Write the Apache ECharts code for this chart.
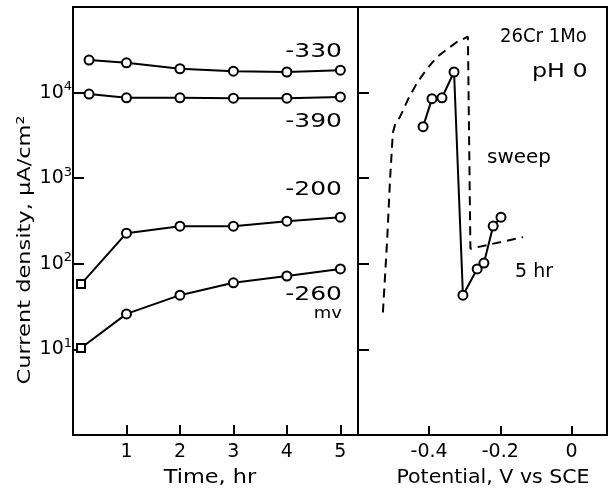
<!DOCTYPE html>
<html>
<head>
<meta charset="utf-8">
<script src="https://cdn.jsdelivr.net/npm/echarts@6/dist/echarts.min.js"></script>
<style>
    html, body { margin: 0; padding: 0; background: #fff; }
    #chart { width: 612px; height: 492px; }
</style>
</head>
<body>
<div id="chart"></div>
<script>
// left panel: current density vs time, one curve per held potential (mV)
const timeUpper = [0.3, 1, 2, 3, 4, 5];
const timeLower = [0.15, 1, 2, 3, 4, 5];
const cd330 = [24000, 22300, 19000, 17800, 17400, 18300];
const cd390 = [9600, 8700, 8700, 8600, 8600, 8900];
const cd200 = [58, 228, 275, 275, 315, 350];
const cd260 = [10.4, 26, 43, 60, 72, 87];

// right panel: potentiodynamic sweep (dashed) and 5 hr values (circles)
const sweepV = [-0.53, -0.518, -0.51, -0.502, -0.496, -0.482, -0.459, -0.434, -0.406, -0.378, -0.35, -0.322, -0.291, -0.286, -0.284, -0.136];
const sweepI = [27, 190, 950, 3400, 4200, 5200, 8400, 13000, 19000, 26000, 32000, 39000, 45000, 44000, 150, 205];
const hr5V = [-0.417, -0.392, -0.364, -0.33, -0.305, -0.265, -0.246, -0.22, -0.198];
const hr5I = [4000, 8500, 8700, 17400, 43, 87, 102, 276, 350];

const timeTicks = [1, 2, 3, 4, 5];
const potentialTicks = [-0.4, -0.2, 0];

const FONT = 'DejaVu Sans';
const zip = (xs, ys) => xs.map((x, i) => [x, ys[i]]);

const markerStyle = {
    color: '#fff',
    borderColor: '#000',
    borderWidth: 2
};

const timeSeries = (xs, ys, firstSquare) => ({
    type: 'line',
    xAxisIndex: 0,
    yAxisIndex: 0,
    symbol: 'circle',
    symbolSize: 9,
    itemStyle: markerStyle,
    lineStyle: { color: '#000', width: 2 },
    data: zip(xs, ys).map((p, i) => (firstSquare && i === 0)
        ? { value: p, symbol: 'rect', symbolSize: 8 }
        : p),
    z: 5
});

const logLabel = (v) => {
    const e = Math.round(Math.log10(v));
    if (e < 1 || e > 4) return '';
    return '10{s|' + e + '}';
};

// text helper for annotations; sx stretches the glyphs a bit like the original lettering
const label = (text, x, y, size, align, sx, rot) => ({
    type: 'text',
    x: x,
    y: y,
    scaleX: sx || 1,
    rotation: rot || 0,
    z: 10,
    style: {
        text: text,
        font: size + 'px "' + FONT + '"',
        fill: '#000',
        textAlign: align,
        textVerticalAlign: 'middle'
    }
});

const chart = echarts.init(document.getElementById('chart'));

const gridStyle = {
    show: true,
    borderColor: '#000',
    borderWidth: 2,
    backgroundColor: 'transparent',
    containLabel: false
};

const axisLine = { show: true, onZero: false, lineStyle: { color: '#000', width: 2 } };

const option = {
    backgroundColor: '#fff',
    animation: false,
    textStyle: { fontFamily: FONT, color: '#000' },
    grid: [
        Object.assign({ left: 73, top: 7, width: 285, height: 428 }, gridStyle),
        Object.assign({ left: 358, top: 7, width: 249, height: 428 }, gridStyle)
    ],
    xAxis: [
        {
            type: 'value',
            gridIndex: 0,
            min: 0,
            max: 5.33,
            interval: 1,
            axisLine: axisLine,
            axisTick: { show: true, inside: true, length: 10, lineStyle: { color: '#000', width: 2 } },
            axisLabel: {
                fontFamily: FONT,
                fontSize: 19,
                color: '#000',
                margin: 8,
                formatter: (v) => timeTicks.includes(v) ? String(v) : ''
            },
            splitLine: { show: false }
        },
        {
            type: 'value',
            gridIndex: 1,
            min: -0.6,
            max: 0.1,
            interval: 0.2,
            axisLine: axisLine,
            axisTick: { show: true, inside: true, length: 9, lineStyle: { color: '#000', width: 2 } },
            axisLabel: {
                fontFamily: FONT,
                fontSize: 19,
                color: '#000',
                margin: 8,
                formatter: (v) => {
                    const t = potentialTicks.find((p) => Math.abs(p - v) < 1e-6);
                    if (t === undefined) return '';
                    return t === 0 ? '0' : t.toFixed(1);
                }
            },
            splitLine: { show: false }
        }
    ],
    yAxis: [
        {
            type: 'log',
            logBase: 10,
            gridIndex: 0,
            position: 'left',
            min: 1,
            max: 100000,
            axisLine: axisLine,
            axisTick: { show: true, inside: true, length: 11, lineStyle: { color: '#000', width: 2 } },
            axisLabel: {
                fontFamily: FONT,
                fontSize: 19,
                color: '#000',
                margin: 1,
                formatter: logLabel,
                rich: {
                    s: { fontFamily: FONT, fontSize: 13, verticalAlign: 'top', padding: [0, 0, 12, 0] }
                }
            },
            splitLine: { show: false }
        },
        {
            type: 'log',
            logBase: 10,
            gridIndex: 1,
            position: 'left',
            min: 1,
            max: 100000,
            axisLine: axisLine,
            axisTick: { show: true, inside: true, length: 11, lineStyle: { color: '#000', width: 2 } },
            axisLabel: { show: false },
            splitLine: { show: false }
        }
    ],
    series: [
        timeSeries(timeUpper, cd330, false),
        timeSeries(timeUpper, cd390, false),
        timeSeries(timeLower, cd200, true),
        timeSeries(timeLower, cd260, true),
        {
            type: 'line',
            xAxisIndex: 1,
            yAxisIndex: 1,
            showSymbol: false,
            symbol: 'none',
            lineStyle: { color: '#000', width: 2, type: [9, 6] },
            data: zip(sweepV, sweepI),
            z: 4
        },
        {
            type: 'line',
            xAxisIndex: 1,
            yAxisIndex: 1,
            symbol: 'circle',
            symbolSize: 9,
            itemStyle: markerStyle,
            lineStyle: { color: '#000', width: 2 },
            data: zip(hr5V, hr5I),
            z: 5
        }
    ],
    graphic: [
        label('Current density, \u03bcA/cm\u00b2', 25, 250, 18, 'center', 1.25, Math.PI / 2),
        label('Time, hr', 210, 478, 19, 'center', 1.18),
        label('Potential, V vs SCE', 493, 478, 19, 'center', 1.08),
        label('-330', 342, 52, 20, 'right', 1.25),
        label('-390', 342, 122, 20, 'right', 1.25),
        label('-200', 342, 190, 20, 'right', 1.25),
        label('-260', 342, 295, 20, 'right', 1.25),
        label('mv', 342, 314, 15, 'right', 1.2),
        label('26Cr 1Mo', 500, 37, 19, 'left', 0.95),
        label('pH 0', 532, 72, 19, 'left', 1.25),
        label('sweep', 487, 158, 19, 'left', 1.05),
        label('5 hr', 515, 272, 19, 'left', 1)
    ]
};

chart.setOption(option);
</script>
</body>
</html>
